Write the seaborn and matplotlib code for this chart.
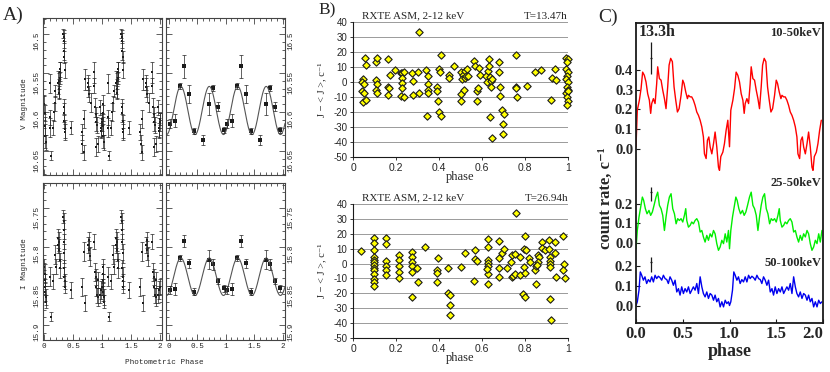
import numpy as np
import matplotlib
matplotlib.use("Agg")
import matplotlib.pyplot as plt
import seaborn as sns
from matplotlib.ticker import MultipleLocator

# ---------------- DATA ----------------
# Panel A : optical light curves (phase in [0,1), plotted for two cycles)
V_raw_phase = [0.005, 0.01, 0.015, 0.02, 0.025,
               0.10, 0.10, 0.105, 0.11,
               0.16, 0.165, 0.19, 0.195, 0.23,
               0.25, 0.255, 0.26, 0.265, 0.27, 0.28,
               0.33, 0.335, 0.34, 0.345, 0.35, 0.355,
               0.34, 0.345, 0.35, 0.355, 0.36,
               0.47,
               0.65, 0.66, 0.69, 0.69, 0.70,
               0.75, 0.76, 0.78, 0.80,
               0.85, 0.86,
               0.88, 0.89, 0.90, 0.91, 0.90, 0.93,
               0.96, 0.975, 0.985, 0.99, 0.995]
V_raw_mag = [16.590, 16.601, 16.618, 16.631, 16.639,
             16.563, 16.607, 16.620, 16.656,
             16.620, 16.600, 16.589, 16.573, 16.562,
             16.560, 16.570, 16.575, 16.548, 16.545, 16.556,
             16.499, 16.503, 16.508, 16.521, 16.529, 16.546,
             16.593, 16.601, 16.612, 16.622, 16.626,
             16.620,
             16.626, 16.641, 16.652, 16.609, 16.558,
             16.562, 16.568, 16.577, 16.588,
             16.549, 16.566,
             16.594, 16.603, 16.613, 16.617, 16.645, 16.641,
             16.594, 16.620, 16.624, 16.613, 16.609]
V_raw_err = [0.012, 0.010, 0.012, 0.015, 0.010,
             0.012, 0.010, 0.012, 0.006,
             0.010, 0.012, 0.010, 0.008, 0.015,
             0.010, 0.012, 0.008, 0.012, 0.010, 0.008,
             0.006, 0.008, 0.010, 0.012, 0.008, 0.010,
             0.010, 0.012, 0.008, 0.012, 0.010,
             0.008,
             0.010, 0.012, 0.010, 0.012, 0.014,
             0.010, 0.012, 0.010, 0.012,
             0.014, 0.010,
             0.012, 0.010, 0.012, 0.010, 0.012, 0.010,
             0.010, 0.012, 0.010, 0.012, 0.008]

I_raw_phase = [0.005, 0.008, 0.01, 0.015, 0.02, 0.025, 0.03,
               0.10, 0.115,
               0.16, 0.19, 0.20,
               0.23, 0.24, 0.25, 0.26, 0.275, 0.28,
               0.33, 0.335, 0.34, 0.345, 0.35,
               0.345, 0.35, 0.355, 0.36,
               0.47,
               0.65, 0.69, 0.70,
               0.76, 0.77, 0.78, 0.79,
               0.86,
               0.88, 0.89, 0.90, 0.91, 0.92, 0.93,
               0.96, 0.98, 0.99]
I_raw_mag = [15.825, 15.834, 15.842, 15.851, 15.857, 15.864, 15.870,
             15.838, 15.889,
             15.844, 15.810, 15.825,
             15.789, 15.797, 15.804, 15.793, 15.817, 15.827,
             15.761, 15.767, 15.778, 15.793, 15.808,
             15.827, 15.838, 15.844, 15.851,
             15.855,
             15.851, 15.806, 15.872,
             15.797, 15.804, 15.791, 15.812,
             15.793,
             15.832, 15.838, 15.851, 15.862, 15.864, 15.842,
             15.862, 15.855, 15.851]
I_raw_err = [0.010, 0.012, 0.008, 0.010, 0.012, 0.010, 0.008,
             0.012, 0.006,
             0.010, 0.012, 0.010,
             0.012, 0.010, 0.014, 0.012, 0.010, 0.012,
             0.008, 0.010, 0.012, 0.010, 0.012,
             0.010, 0.012, 0.010, 0.008,
             0.010,
             0.012, 0.012, 0.010,
             0.010, 0.012, 0.010, 0.012,
             0.010,
             0.012, 0.010, 0.012, 0.010, 0.012, 0.010,
             0.010, 0.012, 0.010]

V_bin_phase = [0.02, 0.11, 0.19, 0.27, 0.36, 0.45, 0.60, 0.70, 0.78, 0.865, 0.96]
V_bin_mag = [16.615, 16.611, 16.566, 16.541, 16.577, 16.624, 16.636, 16.590, 16.569, 16.593, 16.623]
V_bin_err = [0.006, 0.008, 0.004, 0.015, 0.012, 0.004, 0.006, 0.014, 0.004, 0.006, 0.004]

I_bin_phase = [0.02, 0.11, 0.19, 0.27, 0.36, 0.45, 0.70, 0.78, 0.865, 0.96]
I_bin_mag = [15.855, 15.854, 15.814, 15.792, 15.821, 15.857, 15.816, 15.822, 15.843, 15.853]
I_bin_err = [0.005, 0.008, 0.004, 0.008, 0.006, 0.004, 0.012, 0.007, 0.004, 0.005]

# harmonic fit parameters (mean, semi-amplitude, period, phase of maximum light)
V_fit = dict(mean=16.598, amp=0.031, period=0.5, phase_max=0.21)
I_fit = dict(mean=15.838, amp=0.024, period=0.5, phase_max=0.21)

A_phase_ticks = [0, 0.5, 1, 1.5, 2]
V_mag_ticks = [16.5, 16.55, 16.6, 16.65]
I_mag_ticks = [15.75, 15.8, 15.85, 15.9]

# Panel B : RXTE ASM folded data
B1_phase = [0.047, 0.042, 0.05, 0.043, 0.05, 0.047, 0.06, 0.057, 0.06,
            0.109, 0.112, 0.109, 0.112, 0.109, 0.112,
            0.163, 0.163, 0.166, 0.163, 0.174, 0.197,
            0.223, 0.23, 0.236, 0.226, 0.228, 0.23, 0.225, 0.236,
            0.274, 0.279, 0.28, 0.302, 0.305, 0.308,
            0.341, 0.347, 0.347, 0.347, 0.347, 0.344,
            0.39, 0.39, 0.394, 0.398, 0.406, 0.409, 0.40, 0.409,
            0.445, 0.448, 0.468,
            0.504, 0.510, 0.522, 0.530, 0.507, 0.519, 0.524, 0.535, 0.504, 0.518, 0.504,
            0.561, 0.566, 0.586, 0.589, 0.577, 0.58, 0.577,
            0.619, 0.623, 0.628, 0.631, 0.634, 0.639, 0.642, 0.646, 0.643, 0.639, 0.647,
            0.678, 0.68, 0.685, 0.685, 0.693, 0.704, 0.698, 0.698,
            0.758, 0.76, 0.757, 0.763,
            0.809, 0.845, 0.876, 0.922, 0.927, 0.938, 0.944,
            0.992, 0.999, 0.995, 0.992, 0.998, 0.995, 0.992, 0.998, 0.995, 0.999,
            0.992, 1.0, 0.995, 0.999, 0.997]
B1_rate = [2.2, 0, -1, -5.8, -7, -13, -12, 16, 11.5,
           13.2, 16, 1.6, -1, -5.3, -7.5,
           15.2, -3, -4.2, -8.7, 4.7, 7.7,
           5.9, 5.9, 6.4, 2.6, -0.9, -4.2, -9.4, -9.8,
           5.9, 0.7, -8.7, 6.9, -7.5, 33.3,
           8.1, 4.3, -1.6, -5.3, -7.5, -22.5,
           -3, -6.2, -12.5, 8.7, 7, 18.3, -20.3, -22.5,
           4.9, 2.6, 11,
           6.5, 4.9, 7.6, 8.7, 2.0, 2.7, 4.3, 4.3, -7.9, -5.6, -12.6,
           14.3, 11, 9.4, 4.9, -6.2, -4, -12.5,
           4.3, -0.2, 7.6, 10.5, 15, 3.6, 0.9, 2, -3.1, -23.6, -37.5,
           13.6, 6.5, -3.1, -9.6, -18.7, -21, -28.1, -34.4,
           18.1, -3.1, -4, -10.2,
           -2.9, 6.5, 8.3, -11.8, 3, 8.7, 1.6,
           16, 15.3, 13.1, 8.7, 6.5, 4.3, 2, -0.2, -3.1, -5.3,
           -7.5, -5.8, -10.2, -12.4, -15.1]

B2_phase = [0.039,
            0.096, 0.096, 0.096, 0.096, 0.096, 0.096, 0.096, 0.096, 0.096, 0.096, 0.096, 0.096, 0.096,
            0.155, 0.155, 0.155, 0.155, 0.155, 0.155,
            0.216, 0.216, 0.216, 0.216, 0.216,
            0.274, 0.274, 0.274, 0.274, 0.274, 0.274,
            0.297, 0.30, 0.335,
            0.394, 0.392, 0.392, 0.392,
            0.444, 0.444, 0.451, 0.451, 0.451,
            0.502, 0.521,
            0.567, 0.567, 0.575, 0.564,
            0.626, 0.626, 0.626, 0.626, 0.626, 0.626, 0.626, 0.621,
            0.68, 0.68, 0.68, 0.68,
            0.694, 0.70, 0.714,
            0.74, 0.737, 0.74, 0.745,
            0.753, 0.756, 0.753,
            0.776, 0.776,
            0.797, 0.804, 0.795, 0.799, 0.791, 0.799, 0.802,
            0.819, 0.825,
            0.845, 0.85, 0.853, 0.861, 0.865, 0.861, 0.858,
            0.879, 0.881, 0.895,
            0.912, 0.915, 0.915, 0.915, 0.915, 0.912, 0.918, 0.92,
            0.938, 0.941, 0.946,
            0.977, 0.98, 0.977, 0.985]
B2_rate = [8.4,
           16.9, 13.5, 9, 4.5, 2.7, 1.1, -1.1, -2.7, -4.4, -7.1, -10.5, -12.3, -15.2,
           16.9, 13.1, 1.7, -1.6, -4.4, -7.8,
           5.7, 2.3, -1.6, -5.6, -10,
           7.9, 4.5, 1.1, -1.6, -5.6, -22.4,
           -3.3, -12.7, 10.8,
           3.4, -4, -6.2, -12.7,
           -3.3, -19.7, -21.3, -28, -34.7,
           -2.6, 6.8,
           9.0, 2.9, 1.6, -11.6,
           2.3, 0.4, -1.8, -6.7, -13.4, 16.2, 11.3, -3.9,
           15.3, 3.4, -3.3, -8.9,
           6.8, 9.7, -3.3,
           5.7, 1.2, -8.9, -8.4,
           6.4, 33.7, -7.3,
           4.5, -7.8,
           10.0, 9.0, -2.2, -6.3, -20.6, -22.4, 18.5,
           3.4, 1.2,
           -4, -1.6, -13.4, 5.7, 4.1, 1.2, -1.1,
           14.6, 10.2, 9.0,
           15.8, 4.5, 1.8, 0, -2.2, 9.7, -23.5, -37.6,
           14.6, 6.8, -8.9,
           18.5, -0.6, -4, -10]

B_yticks = [-50, -40, -30, -20, -10, 0, 10, 20, 30, 40]
B_xticks = [0, 0.2, 0.4, 0.6, 0.8, 1]

# Panel C : hard X-ray pulse profiles (one cycle, plotted twice)
red_phase = [0.0, 0.014, 0.036, 0.054, 0.071, 0.089, 0.107, 0.125, 0.143, 0.157,
             0.168, 0.186, 0.204, 0.221, 0.232, 0.25, 0.268, 0.286, 0.304, 0.321,
             0.339, 0.354, 0.371, 0.389, 0.407, 0.425, 0.443, 0.461, 0.482, 0.5,
             0.514, 0.532, 0.55, 0.561, 0.579, 0.596, 0.614, 0.632, 0.65, 0.668,
             0.686, 0.704, 0.721, 0.732, 0.75, 0.764, 0.779, 0.793, 0.811, 0.829,
             0.846, 0.864, 0.882, 0.893, 0.907, 0.929, 0.946, 0.964, 0.982]
red_rate = [0.01, 0.196, 0.247, 0.306, 0.39, 0.374, 0.34, 0.28, 0.247, 0.18,
            0.23, 0.255, 0.23, 0.33, 0.417, 0.357, 0.349, 0.298, 0.255, 0.204,
            0.315, 0.426, 0.46, 0.443, 0.315, 0.247, 0.187, 0.204, 0.272, 0.349,
            0.332, 0.289, 0.255, 0.272, 0.264, 0.264, 0.247, 0.221, 0.187, 0.17,
            0.145, 0.111, 0.06, -0.026, -0.05, 0.043, 0.06, 0.009, -0.026, 0.026,
            0.085, 0.009, -0.094, -0.11, -0.04, -0.017, 0.026, 0.094, 0.145]
green_phase = [0.0, 0.014, 0.032, 0.05, 0.068, 0.082, 0.1, 0.118, 0.139, 0.157,
               0.175, 0.193, 0.214, 0.232, 0.25, 0.268, 0.286, 0.304, 0.321, 0.339,
               0.357, 0.375, 0.393, 0.411, 0.429, 0.446, 0.464, 0.482, 0.5, 0.518,
               0.532, 0.543, 0.561, 0.579, 0.596, 0.614, 0.632, 0.65, 0.668, 0.686,
               0.704, 0.721, 0.739, 0.757, 0.775, 0.793, 0.811, 0.829, 0.846, 0.864,
               0.882, 0.9, 0.918, 0.936, 0.954, 0.971, 0.989]
green_rate = [-0.029, 0.064, 0.132, 0.183, 0.234, 0.217, 0.175, 0.149, 0.166, 0.141,
              0.158, 0.192, 0.234, 0.259, 0.192, 0.175, 0.141, 0.064, 0.132, 0.192,
              0.234, 0.251, 0.175, 0.149, 0.098, 0.124, 0.115, 0.124, 0.107, 0.141,
              0.175, 0.115, 0.081, 0.09, 0.107, 0.098, 0.115, 0.124, 0.107, 0.056,
              0.064, 0.031, 0.005, 0.039, 0.014, 0.047, 0.031, 0.064, 0.047, -0.003,
              -0.037, -0.02, 0.014, -0.003, 0.047, 0.005, 0.064]
blue_phase = [0.0, 0.014, 0.032, 0.046, 0.061, 0.079, 0.096, 0.114, 0.132, 0.15,
              0.168, 0.186, 0.204, 0.221, 0.239, 0.257, 0.275, 0.293, 0.311, 0.329,
              0.346, 0.364, 0.382, 0.4, 0.418, 0.436, 0.454, 0.471, 0.489, 0.507,
              0.525, 0.543, 0.561, 0.579, 0.596, 0.614, 0.632, 0.65, 0.668, 0.686,
              0.704, 0.721, 0.739, 0.757, 0.775, 0.793, 0.811, 0.829, 0.846, 0.864,
              0.882, 0.9, 0.918, 0.936, 0.954, 0.971, 0.989]
blue_rate = [0.0, 0.019, 0.078, 0.171, 0.154, 0.129, 0.146, 0.112, 0.132, 0.12,
             0.146, 0.12, 0.154, 0.137, 0.149, 0.142, 0.129, 0.154, 0.137, 0.132,
             0.112, 0.146, 0.129, 0.103, 0.129, 0.069, 0.086, 0.053, 0.095, 0.061,
             0.086, 0.069, 0.095, 0.061, 0.078, 0.095, 0.078, 0.112, 0.061, 0.146,
             0.095, 0.061, 0.044, 0.069, 0.036, 0.061, 0.053, 0.027, 0.053, 0.019,
             0.036, -0.007, 0.019, -0.007, 0.027, 0.01, 0.019]
band_labels = ["10-50keV", "25-50keV", "50-100keV"]
band_ticks = [[0.0, 0.1, 0.2, 0.3, 0.4], [0.0, 0.1, 0.2], [0.0, 0.1, 0.2]]
# period marker (phase, lower end, cross, upper end) per band
marker_phase = 0.157
marker_low = [0.382, 0.214, 0.171]
marker_mid = [0.464, 0.260, 0.221]
marker_high = [0.543, 0.285, 0.245]
C_xticks = [0.0, 0.5, 1.0, 1.5, 2.0]

# ---------------- STYLE / LAYOUT ----------------
sns.set_theme(style="ticks")
plt.rcParams["font.family"] = ["DejaVu Sans"]
MONO = ["Liberation Mono", "DejaVu Sans Mono"]
SERIF = ["Liberation Serif", "DejaVu Serif"]
SANS = ["Liberation Sans", "DejaVu Sans"]

W, H = 830, 372
fig = plt.figure(figsize=(W / 100, H / 100), dpi=100)


def box(x0, y0, x1, y1):
    return [x0 / W, 1 - y1 / H, (x1 - x0) / W, (y1 - y0) / H]


def fx(px):
    return px / W


def fy(py):
    return 1 - py / H


def two_cycles(p, v, e=None):
    p = np.asarray(p, float)
    v = np.asarray(v, float)
    pp = np.concatenate([p, p + 1])
    vv = np.concatenate([v, v])
    if e is None:
        return pp, vv
    e = np.asarray(e, float)
    return pp, vv, np.concatenate([e, e])


def style_A(ax, xlim, ylim, yticks, ymin, side, xlabels):
    ax.set_xlim(xlim)
    ax.set_ylim(ylim)
    ax.set_xticks(A_phase_ticks, labels=[f"{t:g}" for t in A_phase_ticks],
                  fontfamily=MONO, fontsize=5.5)
    ax.set_yticks(yticks, labels=[f"{t:g}" for t in yticks],
                  fontfamily=MONO, fontsize=5.5)
    ax.xaxis.set_minor_locator(MultipleLocator(0.1))
    ax.yaxis.set_minor_locator(MultipleLocator(ymin))
    ax.tick_params(which="both", direction="in", top=True, bottom=True,
                   left=True, right=True, color="#444", width=0.6)
    ax.tick_params(which="major", length=4)
    ax.tick_params(which="minor", length=2)
    ax.tick_params(axis="y", labelrotation=90, pad=2,
                   labelleft=(side == "left"), labelright=(side == "right"))
    ax.tick_params(axis="x", labelbottom=xlabels, pad=2.5)
    for s in ax.spines.values():
        s.set_color("#444")
        s.set_linewidth(0.8)
    ax.set_xlabel("")
    ax.set_ylabel("")


def raw_panel(ax, p, m, e):
    pp, mm, ee = two_cycles(p, m, e)
    ax.errorbar(pp, mm, yerr=ee, fmt="none", ecolor="#222", elinewidth=0.5,
                capsize=1.2, capthick=0.5)
    sns.scatterplot(x=pp, y=mm, ax=ax, marker="s", s=4, color="k", linewidth=0)


def bin_panel(ax, p, m, e, fit, xlim):
    pp, mm, ee = two_cycles(p, m, e)
    keep = pp <= 2.0
    ph = np.linspace(xlim[0], xlim[1], 400)
    curve = fit["mean"] - fit["amp"] * np.cos(2 * np.pi * (ph - fit["phase_max"]) / fit["period"])
    sns.lineplot(x=ph, y=curve, ax=ax, color="#555", lw=0.8)
    ax.errorbar(pp[keep], mm[keep], yerr=ee[keep], fmt="none", ecolor="#222",
                elinewidth=0.5, capsize=1.2, capthick=0.5)
    sns.scatterplot(x=pp[keep], y=mm[keep], ax=ax, marker="s", s=5, color="k",
                    linewidth=0)


XL_RAW = (-0.02, 2.03)
XL_BIN = (-0.05, 2.04)
V_LIM = (16.681, 16.479)
I_LIM = (15.919, 15.718)

axVr = fig.add_axes(box(43, 18, 162, 175))
raw_panel(axVr, V_raw_phase, V_raw_mag, V_raw_err)
style_A(axVr, XL_RAW, V_LIM, V_mag_ticks, 0.01, "left", False)

axVb = fig.add_axes(box(166, 18, 285, 175))
bin_panel(axVb, V_bin_phase, V_bin_mag, V_bin_err, V_fit, XL_BIN)
style_A(axVb, XL_BIN, V_LIM, V_mag_ticks, 0.01, "right", False)

axIr = fig.add_axes(box(43, 183, 162, 340))
raw_panel(axIr, I_raw_phase, I_raw_mag, I_raw_err)
style_A(axIr, XL_RAW, I_LIM, I_mag_ticks, 0.01, "left", True)

axIb = fig.add_axes(box(166, 183, 285, 340))
bin_panel(axIb, I_bin_phase, I_bin_mag, I_bin_err, I_fit, XL_BIN)
style_A(axIb, XL_BIN, I_LIM, I_mag_ticks, 0.01, "right", True)

fig.text(fx(3), fy(15), "A)", family=SERIF, fontsize=14, va="center", ha="left")
fig.text(fx(25), fy(104), "V Magnitude", rotation=90, family=MONO, fontsize=5.5,
         ha="center", va="center")
fig.text(fx(25), fy(264), "I Magnitude", rotation=90, family=MONO, fontsize=5.5,
         ha="center", va="center")
fig.text(fx(164), fy(363), "Photometric Phase", family=MONO, fontsize=5.5,
         ha="center", va="center")


# ---------------- Panel B ----------------
def style_B(ax, period_label):
    ax.set_xlim(0, 1)
    ax.set_ylim(-50, 40)
    ax.set_yticks(B_yticks, labels=[str(t) for t in B_yticks], fontfamily=SANS, fontsize=7)
    ax.set_xticks(B_xticks, labels=[f"{t:g}" for t in B_xticks], fontfamily=SANS, fontsize=7.5)
    ax.yaxis.grid(True, color="#8a8a8a", lw=0.6)
    ax.xaxis.grid(False)
    ax.set_axisbelow(True)
    ax.spines["top"].set_visible(False)
    ax.spines["right"].set_visible(False)
    for s in ("left", "bottom"):
        ax.spines[s].set_color("k")
        ax.spines[s].set_linewidth(0.8)
    ax.tick_params(direction="out", length=2.5, width=0.6, pad=1.5, color="k")
    ax.set_xlabel("phase", family=SERIF, fontsize=9, labelpad=-1)
    ax.set_ylabel("")
    ax.text(0.04, 1.01, "RXTE ASM, 2-12 keV", transform=ax.transAxes, family=SERIF,
            fontsize=8, ha="left", va="bottom")
    ax.text(1.0, 1.01, period_label, transform=ax.transAxes, family=SERIF,
            fontsize=8, ha="right", va="bottom")


axB1 = fig.add_axes(box(353, 22, 568, 157))
sns.scatterplot(x=B1_phase, y=B1_rate, ax=axB1, marker="D", s=14, color="#ffff00",
                edgecolor="k", linewidth=0.8, zorder=3, clip_on=False)
style_B(axB1, "T=13.47h")

axB2 = fig.add_axes(box(353, 204, 568, 338))
sns.scatterplot(x=B2_phase, y=B2_rate, ax=axB2, marker="D", s=14, color="#ffff00",
                edgecolor="k", linewidth=0.8, zorder=3, clip_on=False)
style_B(axB2, "T=26.94h")

fig.text(fx(318), fy(10), "B)", family=SERIF, fontsize=12.5, va="center", ha="left")
for yc in (90, 271):
    fig.text(fx(322), fy(yc), "J \u2212 < J >, c\u207b\u00b9", rotation=90,
             family=SERIF, fontsize=7.5, ha="center", va="center")

# ---------------- Panel C ----------------
C_offsets = [0.798, 0.318, 0.0]
C_colors = ["#ff0000", "#00ee00", "#0000ee"]
C_series = [(red_phase, red_rate), (green_phase, green_rate), (blue_phase, blue_rate)]

axC = fig.add_axes(box(636, 23, 823, 323))
for (p, r), off, col in zip(C_series, C_offsets, C_colors):
    pp, rr = two_cycles(p, r)
    sns.lineplot(x=pp, y=rr + off, ax=axC, color=col, lw=1.0, estimator=None, sort=False)
for i, off in enumerate(C_offsets):
    axC.errorbar([marker_phase], [marker_mid[i] + off],
                 yerr=[[marker_mid[i] - marker_low[i]], [marker_high[i] - marker_mid[i]]],
                 xerr=0.012, fmt="none", ecolor="k", elinewidth=0.9, capsize=0)

axC.set_xlim(0, 2)
axC.set_ylim(-0.089, 1.438)
yt, yl = [], []
for ticks, off in zip(band_ticks, C_offsets):
    for t in ticks:
        yt.append(t + off)
        yl.append(f"{t:.1f}")
axC.set_yticks(yt, labels=yl, fontfamily=SERIF, fontweight="bold", fontsize=10.5)
xlabs = axC.set_xticks(C_xticks, labels=[f"{t:.1f}" for t in C_xticks], fontfamily=SERIF,
                       fontweight="bold", fontsize=12)
axC.get_xticklabels()[-1].set_horizontalalignment("right")
axC.tick_params(direction="in", length=3, width=0.8, pad=2, color="k")
for s in axC.spines.values():
    s.set_color("k")
    s.set_linewidth(1.3)
axC.set_xlabel("phase", family=SERIF, fontweight="bold", fontsize=13, labelpad=1)
axC.set_ylabel("")

fig.text(fx(598), fy(17), "C)", family=SERIF, fontsize=14, va="center", ha="left")
fig.text(fx(606), fy(198), "count rate, c\u207b\u00b9", rotation=90, family=SERIF,
         fontweight="bold", fontsize=12, ha="center", va="center")
fig.text(fx(639), fy(32), "13.3h", family=SERIF, fontweight="bold", fontsize=11.5,
         ha="left", va="center")
for lab, ypx in zip(band_labels, (33, 183, 263)):
    fig.text(fx(821), fy(ypx), lab, family=SERIF, fontweight="bold", fontsize=9,
             ha="right", va="center")

fig.savefig("out.png", dpi=100)
